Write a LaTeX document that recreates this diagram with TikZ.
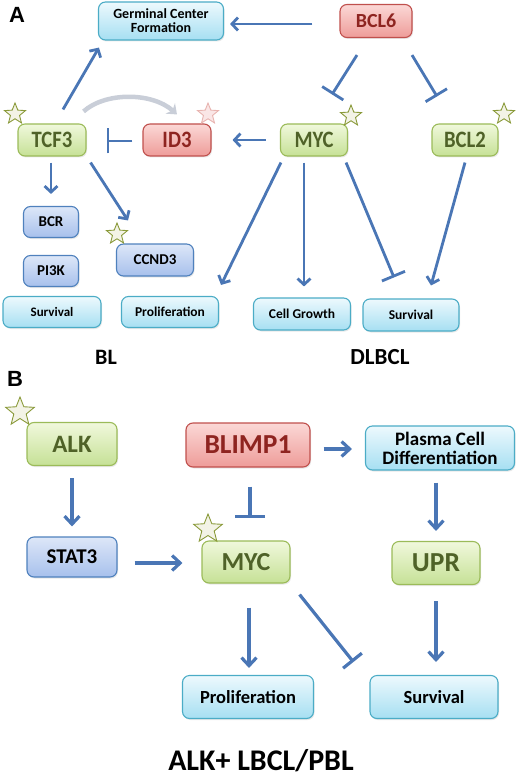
\documentclass[tikz,border=0pt]{standalone}
\usepackage{fontspec}
\setmainfont{Carlito}[BoldFont={Carlito Bold}]
\newfontfamily\tallf{Carlito}[BoldFont={Carlito Bold}, FakeStretch=0.88]
\newfontfamily\lblfont{Liberation Sans}
\usetikzlibrary{arrows.meta,shapes.geometric,calc,shadows}
\definecolor{grnD}{HTML}{9BBB59}
\definecolor{grnT}{HTML}{F0F8DC}
\definecolor{grnB}{HTML}{C6E196}
\definecolor{grnTx}{HTML}{4F6228}
\definecolor{redD}{HTML}{C0504D}
\definecolor{redT}{HTML}{FBD8D6}
\definecolor{redB}{HTML}{EE9C99}
\definecolor{redTx}{HTML}{8E2420}
\definecolor{bluD}{HTML}{4F81BD}
\definecolor{bluT}{HTML}{DDE7F8}
\definecolor{bluB}{HTML}{A7C0EC}
\definecolor{cyaD}{HTML}{4BACC6}
\definecolor{cyaT}{HTML}{EDF9FD}
\definecolor{cyaB}{HTML}{A6DFF2}
\definecolor{arr}{HTML}{4A76B5}
\definecolor{starD}{HTML}{8A9A3A}
\definecolor{starF}{HTML}{F3F3E6}
\definecolor{pstarD}{HTML}{E8B4B0}
\definecolor{pstarF}{HTML}{FAE6E6}
\definecolor{curveC}{HTML}{C9CED8}
\newcommand{\fsz}[1]{\fontsize{#1}{#1}\selectfont\bfseries}
\newcommand{\tsz}[1]{\tallf\fontsize{#1}{#1}\selectfont\bfseries}
\tikzset{
  box/.style={rounded corners=7pt, draw, line width=1.1pt, inner sep=0pt, align=center,
    drop shadow={opacity=0.18, shadow xshift=1pt, shadow yshift=-1.5pt}},
  gnode/.style={box, draw=grnD, top color=grnT, bottom color=grnB, text=grnTx},
  rnode/.style={box, draw=redD, top color=redT, bottom color=redB, text=redTx},
  bnode/.style={box, draw=bluD, top color=bluT, bottom color=bluB, text=black},
  cnode/.style={box, draw=cyaD, top color=cyaT, bottom color=cyaB, text=black},
  ostar/.style={star, star points=5, star point ratio=2.3, draw=starD, fill=starF, line width=0.9pt, inner sep=0pt},
  pstar/.style={star, star points=5, star point ratio=2.3, draw=pstarD, fill=pstarF, line width=0.9pt, inner sep=0pt},
  act/.style={draw=arr, line width=2.8pt, -{Straight Barb[length=6pt,width=13pt]}},
  inh/.style={draw=arr, line width=2.8pt, -{Bar[width=25pt]}},
  actB/.style={draw=arr, line width=3.2pt, -{Straight Barb[length=8pt,width=15pt]}},
  inhB/.style={draw=arr, line width=3.2pt, -{Bar[width=30pt]}},
}
\begin{document}
\begin{tikzpicture}[x=1pt,y=-1pt]
\useasboundingbox (0,0) rectangle (520,778);
% ---------------- Panel A ----------------
\node[font={\lblfont\fontsize{22}{22}\selectfont\bfseries}] (labA) at (17,15) {A};
\node[cnode, minimum width=125pt, minimum height=38pt, font=\fsz{14}] (gc) at (161,21) {Germinal Center\\[0pt]Formation};
\node[rnode, minimum width=72pt, minimum height=33pt, font=\fsz{20}] (bcl6) at (376,21) {BCL6};
\node[gnode, minimum width=68pt, minimum height=32pt, font=\tsz{23.5}] (tcf3) at (52,140) {TCF3};
\node[rnode, minimum width=68pt, minimum height=32pt, font=\tsz{23.5}] (id3) at (177,140) {ID3};
\node[gnode, minimum width=67pt, minimum height=32pt, font=\tsz{23.5}] (mycA) at (314,140) {MYC};
\node[gnode, minimum width=66pt, minimum height=32pt, font=\tsz{23.5}] (bcl2) at (465,140) {BCL2};
\node[bnode, minimum width=55pt, minimum height=31pt, font=\fsz{15}] (bcr) at (51,222) {BCR};
\node[bnode, minimum width=55pt, minimum height=31pt, font=\fsz{15}] (pi3k) at (51,271) {PI3K};
\node[bnode, minimum width=77pt, minimum height=32pt, font=\fsz{15}] (ccnd3) at (155,260) {CCND3};
\node[cnode, minimum width=98pt, minimum height=31pt, font=\fsz{13}] (survBL) at (52,312) {Survival};
\node[cnode, minimum width=97pt, minimum height=31pt, font=\fsz{13.5}] (profA) at (170,312) {Proliferation};
\node[cnode, minimum width=97pt, minimum height=32pt, font=\fsz{13.5}] (cg) at (302,314) {Cell Growth};
\node[cnode, minimum width=96pt, minimum height=32pt, font=\fsz{13.5}] (survD) at (411,315) {Survival};
\node[font=\fsz{22}] (labBL) at (106,357) {BL};
\node[font=\fsz{23}] (labDL) at (380,357) {DLBCL};
% stars
\node[ostar, minimum size=22pt] (s1) at (15,114) {};
\node[pstar, minimum size=22pt] (s2) at (208,114) {};
\node[ostar, minimum size=22pt] (s3) at (351,116) {};
\node[ostar, minimum size=22pt] (s4) at (504,114) {};
\node[ostar, minimum size=22pt] (s5) at (117,234) {};
% connectors A
\draw[act] ($(bcl6.west)+(-27,3)$) -- ($(gc.east)+(6,3)$);
\draw[inh] ($(bcl6.south)+(-19,17)$) -- ($(mycA.north)+(18,-29)$);
\draw[inh] ($(bcl6.south)+(36,17)$) -- ($(bcl2.north)+(-28,-27)$);
\draw[act] ($(mycA.west)+(-14,0)$) -- ($(id3.east)+(21,0)$);
\draw[inh] ($(id3.west)+(-10,1)$) -- ($(tcf3.east)+(20,1)$);
\draw[act] ($(tcf3.north)+(11,-14)$) -- ($(gc.south west)+(1,7)$);
\draw[draw=curveC, line width=4.5pt, -{Stealth[length=9pt,width=14pt]}]
  ($(tcf3.north east)+(-3,-12)$) .. controls (105,92) and (152,92) .. ($(id3.north)+(0,-9)$);
\draw[act] ($(tcf3.south)+(-1,6)$) -- ($(bcr.north)+(0,-12)$);
\draw[act] ($(tcf3.south east)+(4,6)$) -- ($(ccnd3.north west)+(12,-23)$);
\draw[act] ($(mycA.south west)+(1,6)$) -- ($(profA.north east)+(2,-11)$);
\draw[act] ($(mycA.south)+(-10,6)$) -- ($(cg.north)+(2,-11)$);
\draw[inh] ($(mycA.south east)+(-2,6)$) -- ($(survD.north)+(-17,-21)$);
\draw[act] ($(bcl2.south)+(0,6)$) -- ($(survD.north)+(20,-13)$);
% ---------------- Panel B ----------------
\node[font={\lblfont\fontsize{22}{22}\selectfont\bfseries}] (labB) at (15,379) {B};
\node[gnode, minimum width=90pt, minimum height=43pt, font=\fsz{25}] (alk) at (72,444) {ALK};
\node[rnode, minimum width=124pt, minimum height=44pt, font=\fsz{27.5}] (blimp) at (248,445) {BLIMP1};
\node[cnode, minimum width=149pt, minimum height=44pt, font=\fsz{19}] (plasma) at (440,448) {Plasma Cell\\[0pt]Differentiation};
\node[bnode, minimum width=90pt, minimum height=40pt, font=\fsz{21}] (stat3) at (72,557) {STAT3};
\node[gnode, minimum width=88pt, minimum height=42pt, font=\fsz{26}] (mycB) at (246,562) {MYC};
\node[gnode, minimum width=88pt, minimum height=43pt, font=\fsz{27.5}] (upr) at (436,563) {UPR};
\node[cnode, minimum width=131pt, minimum height=43pt, font=\fsz{18.5}] (profB) at (248,697) {Proliferation};
\node[cnode, minimum width=128pt, minimum height=43pt, font=\fsz{18.5}] (survB) at (434,697) {Survival};
\node[font=\fsz{30}, inner sep=0pt, anchor=base] (labALK) at (261,770) {ALK+ LBCL/PBL};
\node[ostar, minimum size=30pt] (s6) at (20,412) {};
\node[ostar, minimum size=30pt] (s7) at (208,529) {};
% connectors B
\draw[actB] ($(alk.south)+(0,12)$) -- ($(stat3.north)+(0,-10)$);
\draw[actB] ($(stat3.east)+(17,6)$) -- ($(mycB.west)+(-19,1)$);
\draw[inhB] ($(blimp.south)+(2,19)$) -- ($(mycB.north)+(4,-22)$);
\draw[actB] ($(blimp.east)+(13,4)$) -- ($(plasma.west)+(-13,1)$);
\draw[actB] ($(plasma.south)+(-4,12)$) -- ($(upr.north)+(0,-10)$);
\draw[actB] ($(mycB.south)+(3,24)$) -- ($(profB.north)+(1,-7)$);
\draw[draw=arr, line width=3.2pt, -{Bar[width=24pt]}] ($(mycB.south east)+(9,11)$) -- ($(survB.north west)+(-16,-13)$);
\draw[actB] ($(upr.south)+(0,16)$) -- ($(survB.north)+(2,-13)$);
\end{tikzpicture}
\end{document}
